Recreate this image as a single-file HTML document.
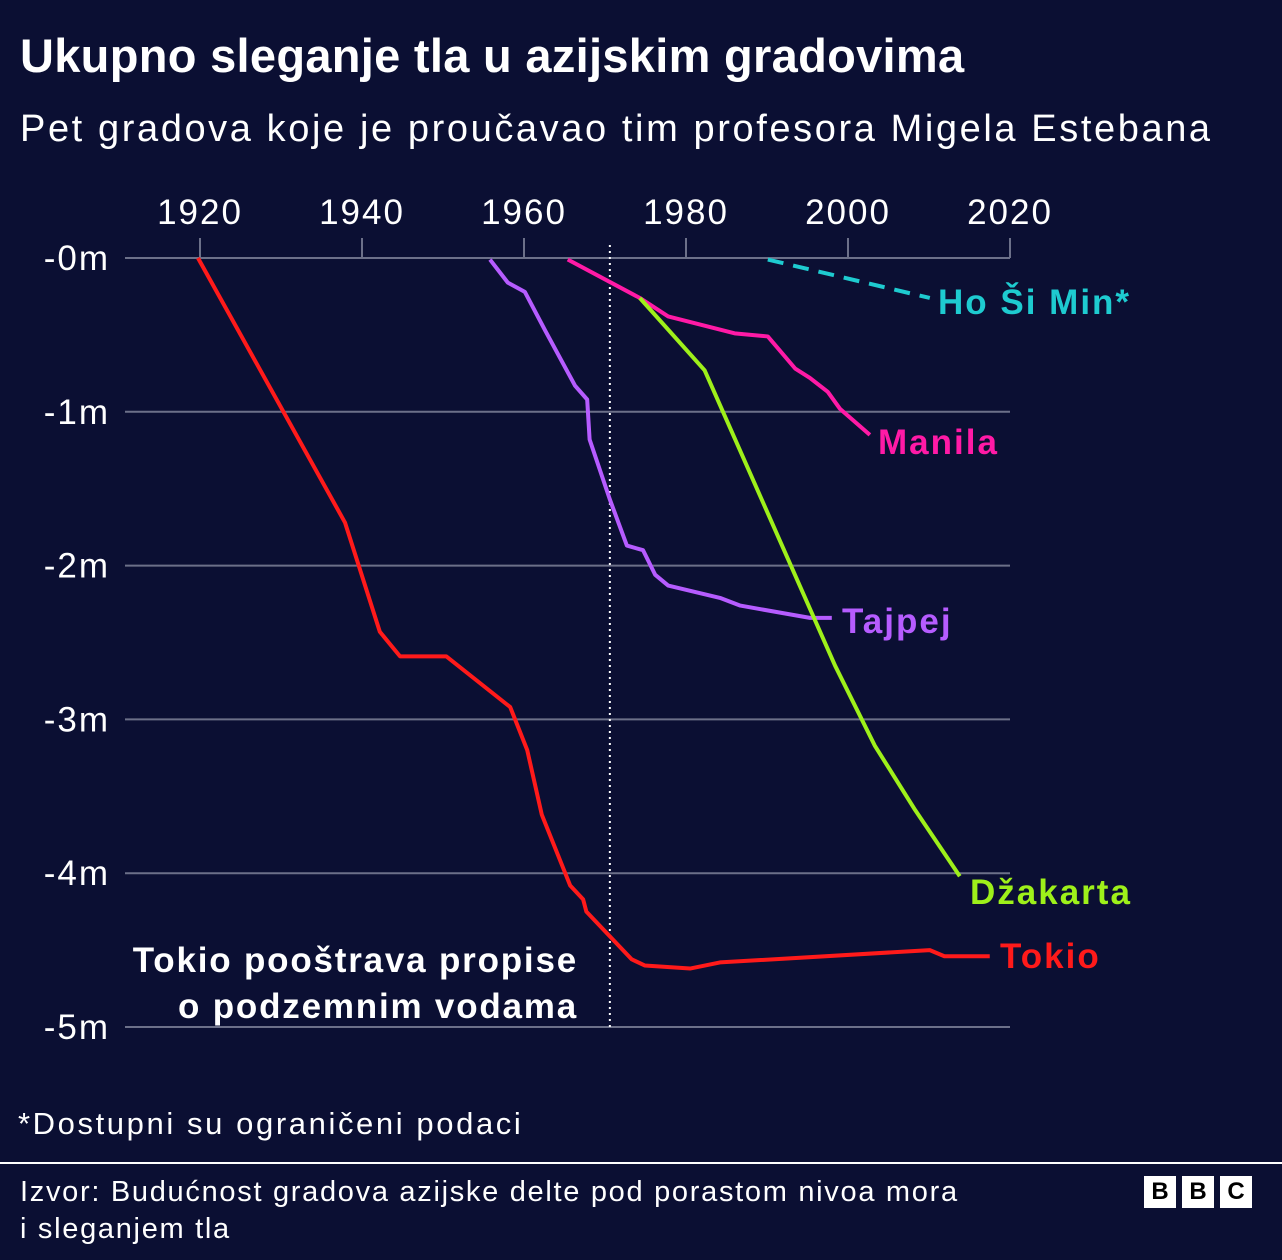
<!DOCTYPE html>
<html><head><meta charset="utf-8">
<style>
body{margin:0;width:1282px;height:1260px;background:#0b0f33;overflow:hidden;font-family:"Liberation Sans",sans-serif;color:#fff}
#title{position:absolute;left:20px;top:28px;font:bold 47px "Liberation Sans",sans-serif;letter-spacing:0.3px;white-space:nowrap}
#sub{position:absolute;left:20px;top:108px;font-size:38px;letter-spacing:2.6px;white-space:nowrap}
#note{position:absolute;left:18px;top:1106px;font-size:31px;letter-spacing:2.6px;white-space:nowrap}
#rule{position:absolute;left:0;top:1162px;width:1282px;height:2px;background:#fff}
#src{position:absolute;left:20px;top:1174px;font-size:29px;letter-spacing:1.7px;line-height:37px;white-space:nowrap}
#bbc{position:absolute;left:1144px;top:1176px;display:flex;gap:6px}
#bbc div{width:32px;height:32px;background:#fff;color:#000;font:bold 24px "Liberation Sans",sans-serif;text-align:center;line-height:32px}
svg{position:absolute;left:0;top:0}
</style></head><body>
<div id="title">Ukupno sleganje tla u azijskim gradovima</div>
<div id="sub">Pet gradova koje je proučavao tim profesora Migela Estebana</div>
<svg id="chart" width="1282" height="1260"></svg>
<div id="note">*Dostupni su ograničeni podaci</div>
<div id="rule"></div>
<div id="src">Izvor: Budućnost gradova azijske delte pod porastom nivoa mora<br>i sleganjem tla</div>
<div id="bbc"><div>B</div><div>B</div><div>C</div></div>
<script>
const xTicks=[1920,1940,1960,1980,2000,2020];
const yTicks=[0,-1,-2,-3,-4,-5];
const tokioYears=[1919.75,1937.9,1942.2,1944.7,1950.4,1958.3,1960.4,1962.2,1965.7,1967.3,1967.7,1973.3,1974.9,1980.5,1984.2,2010.1,2011.9,2017.5];
const tokioVals=[0,-1.72,-2.43,-2.59,-2.59,-2.92,-3.2,-3.62,-4.08,-4.17,-4.25,-4.56,-4.6,-4.62,-4.58,-4.5,-4.54,-4.54];
const tajpejYears=[1955.8,1958,1960.1,1962.6,1966.3,1967.8,1968.1,1970.6,1972.7,1974.7,1976.2,1977.8,1984.2,1986.7,1995.3,1998];
const tajpejVals=[-0.01,-0.16,-0.22,-0.47,-0.83,-0.92,-1.18,-1.57,-1.87,-1.9,-2.06,-2.13,-2.21,-2.26,-2.34,-2.34];
const manilaYears=[1965.4,1974.3,1977.8,1986,1990.1,1993.5,1995.3,1997.5,1999,2002.7];
const manilaVals=[-0.01,-0.26,-0.38,-0.49,-0.51,-0.72,-0.78,-0.87,-0.98,-1.15];
const dzakartaYears=[1974.3,1982.3,1998.4,2003.3,2008.3,2013.8];
const dzakartaVals=[-0.26,-0.73,-2.65,-3.17,-3.59,-4.02];
const hcmYears=[1990.1,2010.1];
const hcmVals=[-0.01,-0.26];
const policyYear=1970.6;

const NS='http://www.w3.org/2000/svg';
const svg=document.getElementById('chart');
const X=y=>200+(y-1920)*8.1;
const Y=v=>258-v*153.8;
function el(t,a,p){const e=document.createElementNS(NS,t);for(const k in a)e.setAttribute(k,a[k]);(p||svg).appendChild(e);return e;}
yTicks.forEach(v=>{
  const g=el('line',{x1:125,x2:1010,y1:Y(v),y2:Y(v),stroke:'#6c7089','stroke-width':2});
  
  const t=el('text',{x:110,y:Y(v)+12,'text-anchor':'end','font-size':35,'letter-spacing':2,fill:'#fff','font-family':'Liberation Sans'});
  t.textContent='-'+Math.abs(v)+'m';
  
});
xTicks.forEach(y=>{
  const l=el('line',{x1:X(y),x2:X(y),y1:238,y2:258,stroke:'#6c7089','stroke-width':2});
  
  const t=el('text',{x:X(y),y:224,'text-anchor':'middle','font-size':35,'letter-spacing':2,fill:'#fff','font-family':'Liberation Sans'});
  t.textContent=y;
  
});
const pl=el('line',{x1:X(policyYear),x2:X(policyYear),y1:245,y2:1027,stroke:'#fff','stroke-width':2,'stroke-dasharray':'2 4'});

[['Tokio pooštrava propise',972],['o podzemnim vodama',1018]].forEach(([s,yy])=>{
  const t=el('text',{x:578,y:yy,'text-anchor':'end','font-size':35,'letter-spacing':1.8,'font-weight':'bold',fill:'#fff','font-family':'Liberation Sans'});
  t.textContent=s;
});
function series(name,ys,vs,color,label,lx,ly,dash){
  const p=el('polyline',{points:ys.map((y,i)=>X(y)+','+Y(vs[i])).join(' '),fill:'none',stroke:color,'stroke-width':4,'stroke-linejoin':'round'});
  if(dash)p.setAttribute('stroke-dasharray',dash);
  
  const t=el('text',{x:lx,y:ly,'font-size':35,'letter-spacing':2,'font-weight':'bold',fill:color,'font-family':'Liberation Sans'});
  t.textContent=label;
}
series('tokio',tokioYears,tokioVals,'#ff1a1a','Tokio',1000,968);
series('tajpej',tajpejYears,tajpejVals,'#b65cff','Tajpej',842,633);
series('manila',manilaYears,manilaVals,'#ff1aa6','Manila',878,454);
series('dzakarta',dzakartaYears,dzakartaVals,'#9ef01a','Džakarta',970,904);
series('ho-si-min',hcmYears,hcmVals,'#1ecbd0','Ho Ši Min*',938,314,'16 10');
</script>
</body></html>
